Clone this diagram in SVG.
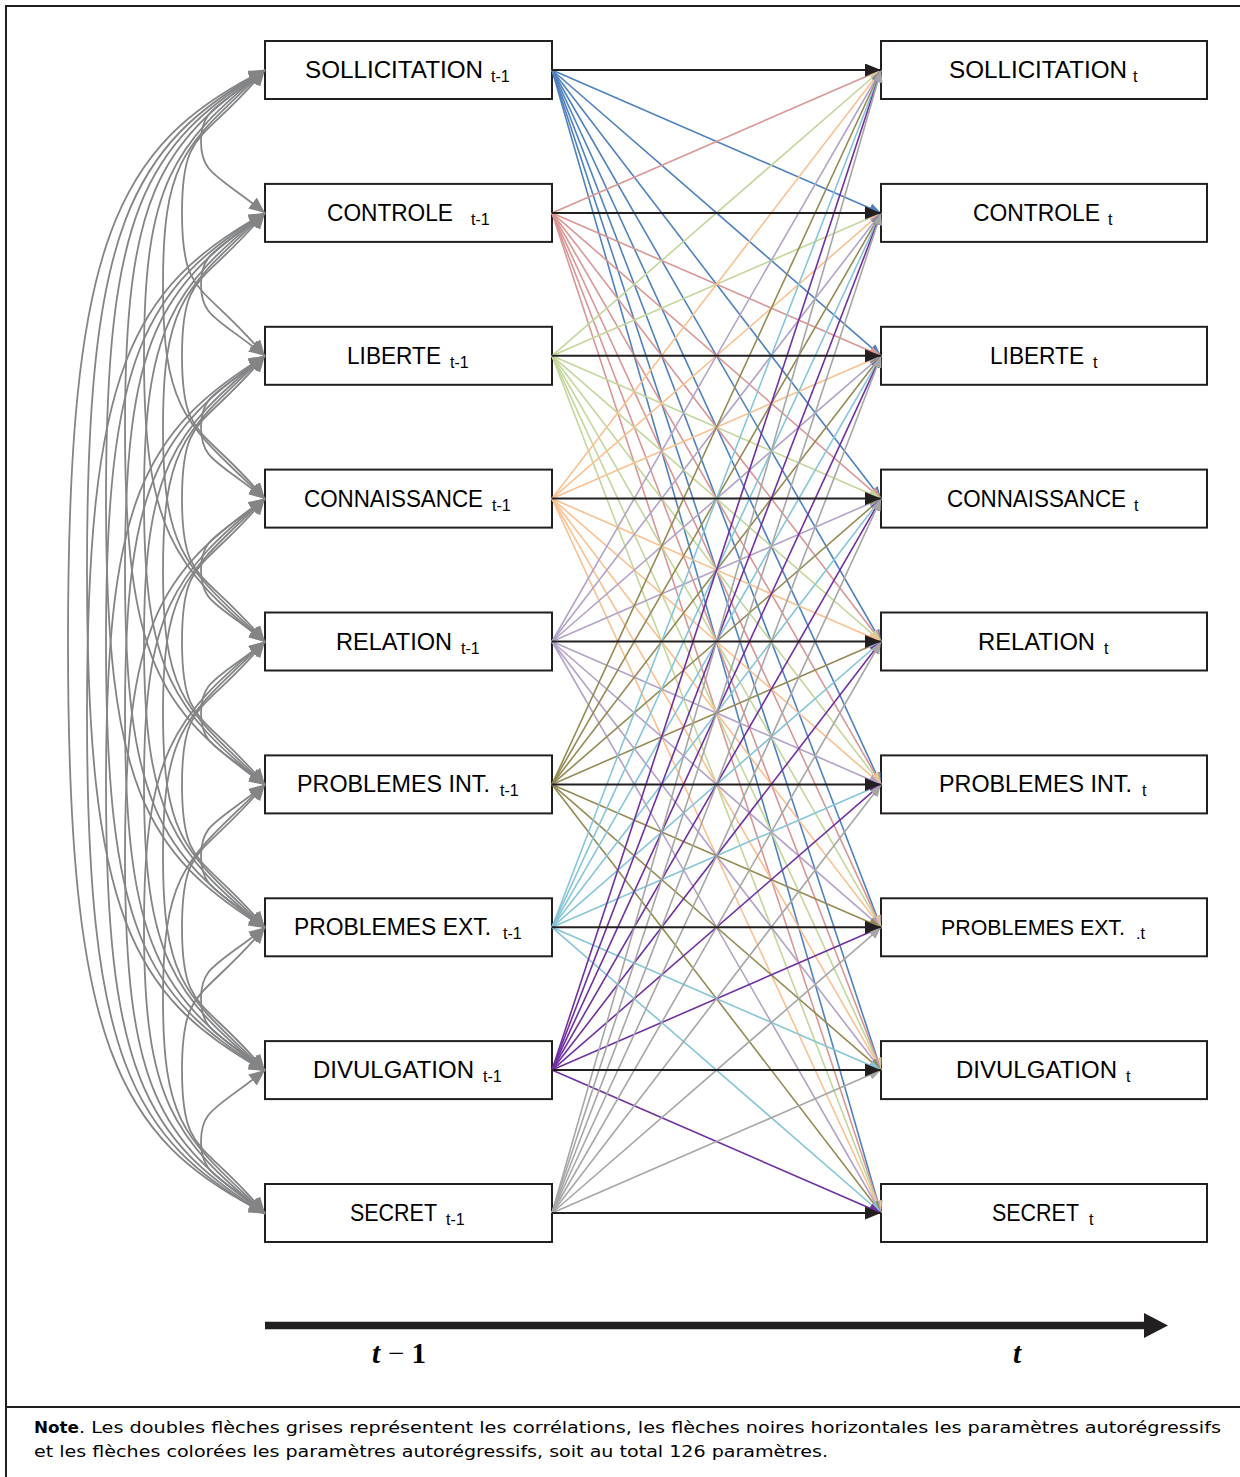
<svg xmlns="http://www.w3.org/2000/svg" xmlns:xlink="http://www.w3.org/1999/xlink" width="1240" height="1477" viewBox="0 0 1240 1477">
<style>
.box{fill:#fff;stroke:#231F20;stroke-width:2}
.lbl{font-family:"Liberation Sans",Arial,sans-serif;font-size:23.5px;fill:#000}
.sub{font-family:"Liberation Sans",Arial,sans-serif;font-size:16px;fill:#000}
.cor{fill:none;stroke:#838486;stroke-width:1.8;marker-start:url(#mg);marker-end:url(#mg)}
#lines line{stroke-width:1.6}
.s1 line{stroke:#4F81BD;marker-end:url(#m1)}
.s2 line{stroke:#D99694;marker-end:url(#m2)}
.s3 line{stroke:#C3D69B;marker-end:url(#m3)}
.s4 line{stroke:#FAC090;marker-end:url(#m4)}
.s5 line{stroke:#B3A2C7;marker-end:url(#m5)}
.s6 line{stroke:#948A54;marker-end:url(#m6)}
.s7 line{stroke:#86C5D8;marker-end:url(#m7)}
.s8 line{stroke:#7030A0;marker-end:url(#m8)}
.s9 line{stroke:#A6A6A6;marker-end:url(#m9)}
#lines .ar line{stroke:#231F20;stroke-width:2;marker-end:url(#mk)}
.note{font-family:"DejaVu Sans",Verdana,sans-serif;font-size:16px;fill:#000}
</style>
<defs>
<marker id="m1" markerUnits="userSpaceOnUse" markerWidth="12" markerHeight="10" refX="12" refY="5" orient="auto"><path d="M0,0L12,5L0,10z" fill="#4F81BD"/></marker>
<marker id="m2" markerUnits="userSpaceOnUse" markerWidth="12" markerHeight="10" refX="12" refY="5" orient="auto"><path d="M0,0L12,5L0,10z" fill="#D99694"/></marker>
<marker id="m3" markerUnits="userSpaceOnUse" markerWidth="12" markerHeight="10" refX="12" refY="5" orient="auto"><path d="M0,0L12,5L0,10z" fill="#C3D69B"/></marker>
<marker id="m4" markerUnits="userSpaceOnUse" markerWidth="12" markerHeight="10" refX="12" refY="5" orient="auto"><path d="M0,0L12,5L0,10z" fill="#FAC090"/></marker>
<marker id="m5" markerUnits="userSpaceOnUse" markerWidth="12" markerHeight="10" refX="12" refY="5" orient="auto"><path d="M0,0L12,5L0,10z" fill="#B3A2C7"/></marker>
<marker id="m6" markerUnits="userSpaceOnUse" markerWidth="12" markerHeight="10" refX="12" refY="5" orient="auto"><path d="M0,0L12,5L0,10z" fill="#948A54"/></marker>
<marker id="m7" markerUnits="userSpaceOnUse" markerWidth="12" markerHeight="10" refX="12" refY="5" orient="auto"><path d="M0,0L12,5L0,10z" fill="#86C5D8"/></marker>
<marker id="m8" markerUnits="userSpaceOnUse" markerWidth="12" markerHeight="10" refX="12" refY="5" orient="auto"><path d="M0,0L12,5L0,10z" fill="#7030A0"/></marker>
<marker id="m9" markerUnits="userSpaceOnUse" markerWidth="12" markerHeight="10" refX="12" refY="5" orient="auto"><path d="M0,0L12,5L0,10z" fill="#A6A6A6"/></marker>
<marker id="mk" markerUnits="userSpaceOnUse" markerWidth="16" markerHeight="13" refX="16" refY="6.5" orient="auto"><path d="M0,0L16,6.5L0,13z" fill="#231F20"/></marker>
<marker id="mg" markerUnits="userSpaceOnUse" markerWidth="16" markerHeight="14" refX="16" refY="7" orient="auto-start-reverse"><path d="M0,0L16,7L0,14z" fill="#838486"/></marker>
<path id="d1" class="cor" d="M0,0 C-49,39 -64,39.5 -64,71.5 S-49,104 0,143"/>
<path id="d2" class="cor" d="M0,0 C-63,75 -83,57 -83,143 S-63,211 0,286"/>
<path id="d3" class="cor" d="M0,0 C-78,75 -102,85.5 -102,214.5 S-78,354 0,429"/>
<path id="d4" class="cor" d="M0,0 C-92,75 -121,114 -121,286 S-92,497 0,572"/>
<path id="d5" class="cor" d="M0,0 C-106,75 -140,125.5 -140,357.5 S-106,640 0,715"/>
<path id="d6" class="cor" d="M0,0 C-121,75 -159,143 -159,429 S-121,783 0,858"/>
<path id="d7" class="cor" d="M0,0 C-135,75 -178,158.5 -178,500.5 S-135,926 0,1001"/>
<path id="d8" class="cor" d="M0,0 C-150,75 -197,171.5 -197,571.5 S-150,1068 0,1143"/>
</defs>
<rect width="1240" height="1477" fill="#fff"/>
<g id="frame" stroke="#231F20" stroke-width="2" fill="none">
<path d="M1240,6 H6 V1477"/>
<path d="M6,1407 H1240"/>
</g>
<g id="nodes-left">
<g id="sollicitation-t1"><rect class="box" x="265" y="41" width="287" height="58"/><text class="lbl" x="305" y="78" textLength="178" lengthAdjust="spacingAndGlyphs">SOLLICITATION</text><text class="sub" x="491" y="82">t-1</text></g>
<g id="controle-t1"><rect class="box" x="265" y="183.9" width="287" height="58"/><text class="lbl" x="327" y="220.9" textLength="126" lengthAdjust="spacingAndGlyphs">CONTROLE</text><text class="sub" x="471" y="224.9">t-1</text></g>
<g id="liberte-t1"><rect class="box" x="265" y="326.8" width="287" height="58"/><text class="lbl" x="347" y="363.8" textLength="94" lengthAdjust="spacingAndGlyphs">LIBERTE</text><text class="sub" x="450" y="367.8">t-1</text></g>
<g id="connaissance-t1"><rect class="box" x="265" y="469.6" width="287" height="58"/><text class="lbl" x="304" y="506.6" textLength="179" lengthAdjust="spacingAndGlyphs">CONNAISSANCE</text><text class="sub" x="492" y="510.6">t-1</text></g>
<g id="relation-t1"><rect class="box" x="265" y="612.5" width="287" height="58"/><text class="lbl" x="336" y="649.5" textLength="116" lengthAdjust="spacingAndGlyphs">RELATION</text><text class="sub" x="461" y="653.5">t-1</text></g>
<g id="problemes-int-t1"><rect class="box" x="265" y="755.4" width="287" height="58"/><text class="lbl" x="297" y="792.4" textLength="193" lengthAdjust="spacingAndGlyphs">PROBLEMES INT.</text><text class="sub" x="500" y="796.4">t-1</text></g>
<g id="problemes-ext-t1"><rect class="box" x="265" y="898.3" width="287" height="58"/><text class="lbl" x="294" y="935.3" textLength="197" lengthAdjust="spacingAndGlyphs">PROBLEMES EXT.</text><text class="sub" x="503" y="939.3">t-1</text></g>
<g id="divulgation-t1"><rect class="box" x="265" y="1041.1" width="287" height="58"/><text class="lbl" x="313" y="1078.1" textLength="161" lengthAdjust="spacingAndGlyphs">DIVULGATION</text><text class="sub" x="483" y="1082.1">t-1</text></g>
<g id="secret-t1"><rect class="box" x="265" y="1184" width="287" height="58"/><text class="lbl" x="350" y="1221" textLength="87" lengthAdjust="spacingAndGlyphs">SECRET</text><text class="sub" x="446" y="1225">t-1</text></g>
</g>
<g id="nodes-right">
<g id="sollicitation-t"><rect class="box" x="881" y="41" width="326" height="58"/><text class="lbl" x="949" y="78" textLength="178" lengthAdjust="spacingAndGlyphs">SOLLICITATION</text><text class="sub" x="1133" y="82">t</text></g>
<g id="controle-t"><rect class="box" x="881" y="183.9" width="326" height="58"/><text class="lbl" x="973" y="220.9" textLength="127" lengthAdjust="spacingAndGlyphs">CONTROLE</text><text class="sub" x="1108" y="224.9">t</text></g>
<g id="liberte-t"><rect class="box" x="881" y="326.8" width="326" height="58"/><text class="lbl" x="990" y="363.8" textLength="94" lengthAdjust="spacingAndGlyphs">LIBERTE</text><text class="sub" x="1093" y="367.8">t</text></g>
<g id="connaissance-t"><rect class="box" x="881" y="469.6" width="326" height="58"/><text class="lbl" x="947" y="506.6" textLength="179" lengthAdjust="spacingAndGlyphs">CONNAISSANCE</text><text class="sub" x="1134" y="510.6">t</text></g>
<g id="relation-t"><rect class="box" x="881" y="612.5" width="326" height="58"/><text class="lbl" x="978" y="649.5" textLength="117" lengthAdjust="spacingAndGlyphs">RELATION</text><text class="sub" x="1104" y="653.5">t</text></g>
<g id="problemes-int-t"><rect class="box" x="881" y="755.4" width="326" height="58"/><text class="lbl" x="939" y="792.4" textLength="193" lengthAdjust="spacingAndGlyphs">PROBLEMES INT.</text><text class="sub" x="1142" y="796.4">t</text></g>
<g id="problemes-ext-t"><rect class="box" x="881" y="898.3" width="326" height="58"/><text class="lbl" x="941" y="935.3" style="font-size:22px" textLength="184" lengthAdjust="spacingAndGlyphs">PROBLEMES EXT.</text><text class="sub" x="1136" y="939.3">.t</text></g>
<g id="divulgation-t"><rect class="box" x="881" y="1041.1" width="326" height="58"/><text class="lbl" x="956" y="1078.1" textLength="161" lengthAdjust="spacingAndGlyphs">DIVULGATION</text><text class="sub" x="1126" y="1082.1">t</text></g>
<g id="secret-t"><rect class="box" x="881" y="1184" width="326" height="58"/><text class="lbl" x="992" y="1221" textLength="87" lengthAdjust="spacingAndGlyphs">SECRET</text><text class="sub" x="1089" y="1225">t</text></g>
</g>
<g id="connectors">
<g id="correlations">
<use href="#d1" x="265" y="70"/><use href="#d2" x="265" y="70"/><use href="#d3" x="265" y="70"/><use href="#d4" x="265" y="70"/><use href="#d5" x="265" y="70"/><use href="#d6" x="265" y="70"/><use href="#d7" x="265" y="70"/><use href="#d8" x="265" y="70"/>
<use href="#d1" x="265" y="212.9"/><use href="#d2" x="265" y="212.9"/><use href="#d3" x="265" y="212.9"/><use href="#d4" x="265" y="212.9"/><use href="#d5" x="265" y="212.9"/><use href="#d6" x="265" y="212.9"/><use href="#d7" x="265" y="212.9"/>
<use href="#d1" x="265" y="355.8"/><use href="#d2" x="265" y="355.8"/><use href="#d3" x="265" y="355.8"/><use href="#d4" x="265" y="355.8"/><use href="#d5" x="265" y="355.8"/><use href="#d6" x="265" y="355.8"/>
<use href="#d1" x="265" y="498.6"/><use href="#d2" x="265" y="498.6"/><use href="#d3" x="265" y="498.6"/><use href="#d4" x="265" y="498.6"/><use href="#d5" x="265" y="498.6"/>
<use href="#d1" x="265" y="641.5"/><use href="#d2" x="265" y="641.5"/><use href="#d3" x="265" y="641.5"/><use href="#d4" x="265" y="641.5"/>
<use href="#d1" x="265" y="784.4"/><use href="#d2" x="265" y="784.4"/><use href="#d3" x="265" y="784.4"/>
<use href="#d1" x="265" y="927.3"/><use href="#d2" x="265" y="927.3"/>
<use href="#d1" x="265" y="1070.1"/>
</g>
<g id="lines">
<g class="s1"><line x1="552" y1="70" x2="881" y2="212.9"/><line x1="552" y1="70" x2="881" y2="355.8"/><line x1="552" y1="70" x2="881" y2="498.6"/><line x1="552" y1="70" x2="881" y2="641.5"/><line x1="552" y1="70" x2="881" y2="784.4"/><line x1="552" y1="70" x2="881" y2="927.3"/><line x1="552" y1="70" x2="881" y2="1070.1"/><line x1="552" y1="70" x2="881" y2="1213"/></g>
<g class="s2"><line x1="552" y1="212.9" x2="881" y2="70"/><line x1="552" y1="212.9" x2="881" y2="355.8"/><line x1="552" y1="212.9" x2="881" y2="498.6"/><line x1="552" y1="212.9" x2="881" y2="641.5"/><line x1="552" y1="212.9" x2="881" y2="784.4"/><line x1="552" y1="212.9" x2="881" y2="927.3"/><line x1="552" y1="212.9" x2="881" y2="1070.1"/><line x1="552" y1="212.9" x2="881" y2="1213"/></g>
<g class="s3"><line x1="552" y1="355.8" x2="881" y2="70"/><line x1="552" y1="355.8" x2="881" y2="212.9"/><line x1="552" y1="355.8" x2="881" y2="498.6"/><line x1="552" y1="355.8" x2="881" y2="641.5"/><line x1="552" y1="355.8" x2="881" y2="784.4"/><line x1="552" y1="355.8" x2="881" y2="927.3"/><line x1="552" y1="355.8" x2="881" y2="1070.1"/><line x1="552" y1="355.8" x2="881" y2="1213"/></g>
<g class="s4"><line x1="552" y1="498.6" x2="881" y2="70"/><line x1="552" y1="498.6" x2="881" y2="212.9"/><line x1="552" y1="498.6" x2="881" y2="355.8"/><line x1="552" y1="498.6" x2="881" y2="641.5"/><line x1="552" y1="498.6" x2="881" y2="784.4"/><line x1="552" y1="498.6" x2="881" y2="927.3"/><line x1="552" y1="498.6" x2="881" y2="1070.1"/><line x1="552" y1="498.6" x2="881" y2="1213"/></g>
<g class="s5"><line x1="552" y1="641.5" x2="881" y2="70"/><line x1="552" y1="641.5" x2="881" y2="212.9"/><line x1="552" y1="641.5" x2="881" y2="355.8"/><line x1="552" y1="641.5" x2="881" y2="498.6"/><line x1="552" y1="641.5" x2="881" y2="784.4"/><line x1="552" y1="641.5" x2="881" y2="927.3"/><line x1="552" y1="641.5" x2="881" y2="1070.1"/><line x1="552" y1="641.5" x2="881" y2="1213"/></g>
<g class="s6"><line x1="552" y1="784.4" x2="881" y2="70"/><line x1="552" y1="784.4" x2="881" y2="212.9"/><line x1="552" y1="784.4" x2="881" y2="355.8"/><line x1="552" y1="784.4" x2="881" y2="498.6"/><line x1="552" y1="784.4" x2="881" y2="641.5"/><line x1="552" y1="784.4" x2="881" y2="927.3"/><line x1="552" y1="784.4" x2="881" y2="1070.1"/><line x1="552" y1="784.4" x2="881" y2="1213"/></g>
<g class="s7"><line x1="552" y1="927.3" x2="881" y2="70"/><line x1="552" y1="927.3" x2="881" y2="212.9"/><line x1="552" y1="927.3" x2="881" y2="355.8"/><line x1="552" y1="927.3" x2="881" y2="498.6"/><line x1="552" y1="927.3" x2="881" y2="641.5"/><line x1="552" y1="927.3" x2="881" y2="784.4"/><line x1="552" y1="927.3" x2="881" y2="1070.1"/><line x1="552" y1="927.3" x2="881" y2="1213"/></g>
<g class="s8"><line x1="552" y1="1070.1" x2="881" y2="70"/><line x1="552" y1="1070.1" x2="881" y2="212.9"/><line x1="552" y1="1070.1" x2="881" y2="355.8"/><line x1="552" y1="1070.1" x2="881" y2="498.6"/><line x1="552" y1="1070.1" x2="881" y2="641.5"/><line x1="552" y1="1070.1" x2="881" y2="784.4"/><line x1="552" y1="1070.1" x2="881" y2="927.3"/><line x1="552" y1="1070.1" x2="881" y2="1213"/></g>
<g class="s9"><line x1="552" y1="1213" x2="881" y2="70"/><line x1="552" y1="1213" x2="881" y2="212.9"/><line x1="552" y1="1213" x2="881" y2="355.8"/><line x1="552" y1="1213" x2="881" y2="498.6"/><line x1="552" y1="1213" x2="881" y2="641.5"/><line x1="552" y1="1213" x2="881" y2="784.4"/><line x1="552" y1="1213" x2="881" y2="927.3"/><line x1="552" y1="1213" x2="881" y2="1070.1"/></g>
<g class="ar"><line x1="552" y1="70" x2="881" y2="70"/><line x1="552" y1="212.9" x2="881" y2="212.9"/><line x1="552" y1="355.8" x2="881" y2="355.8"/><line x1="552" y1="498.6" x2="881" y2="498.6"/><line x1="552" y1="641.5" x2="881" y2="641.5"/><line x1="552" y1="784.4" x2="881" y2="784.4"/><line x1="552" y1="927.3" x2="881" y2="927.3"/><line x1="552" y1="1070.1" x2="881" y2="1070.1"/><line x1="552" y1="1213" x2="881" y2="1213"/></g>
</g>
</g>
<g id="time-axis">
<line x1="265" y1="1325.5" x2="1146" y2="1325.5" stroke="#231F20" stroke-width="7.5"/>
<path d="M1144,1313 L1168,1325.5 L1144,1338 z" fill="#231F20"/>
<text x="372" y="1363" font-family="'Liberation Serif',serif" font-size="29" fill="#000"><tspan font-style="italic" font-weight="bold">t</tspan><tspan dx="8">−</tspan><tspan dx="7" font-weight="bold">1</tspan></text>
<text x="1013" y="1363" font-family="'Liberation Serif',serif" font-size="29" font-style="italic" font-weight="bold" fill="#000">t</text>
</g>
<g id="note">
<text class="note" x="34" y="1433" font-weight="bold" textLength="45" lengthAdjust="spacingAndGlyphs">Note</text>
<text class="note" x="79" y="1433" textLength="1142" lengthAdjust="spacingAndGlyphs">. Les doubles flèches grises représentent les corrélations, les flèches noires horizontales les paramètres autorégressifs</text>
<text class="note" x="34" y="1457" textLength="794" lengthAdjust="spacingAndGlyphs">et les flèches colorées les paramètres autorégressifs, soit au total 126 paramètres.</text>
</g>
</svg>
